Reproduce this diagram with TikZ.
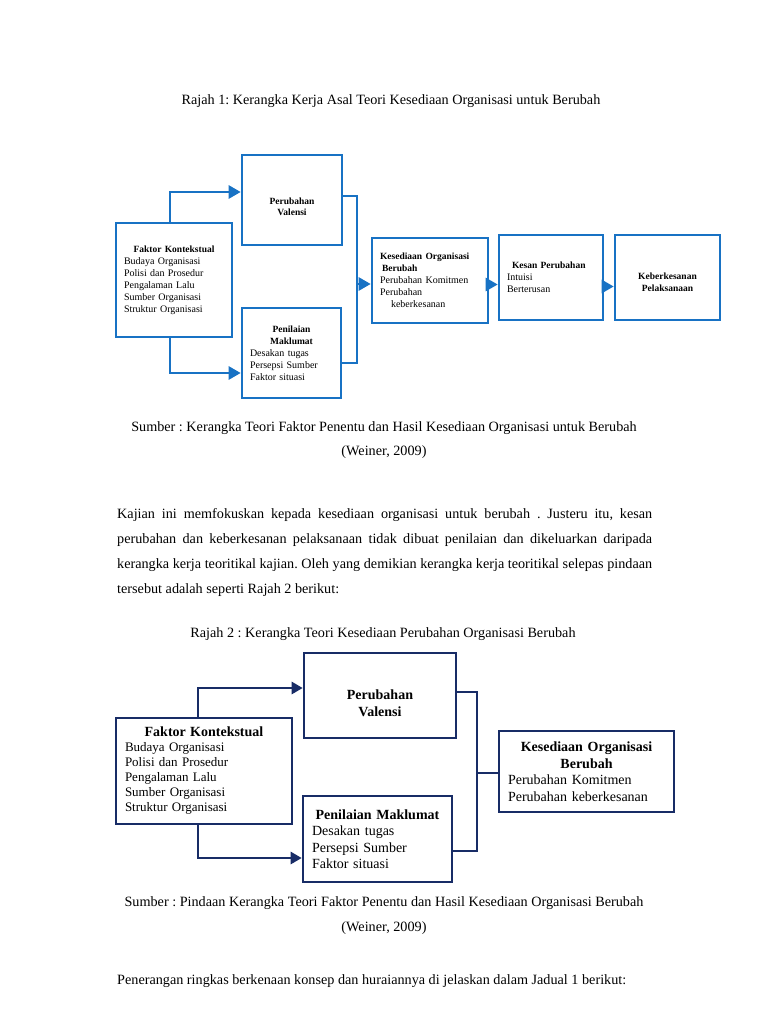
\documentclass[tikz,border=0pt]{standalone}
\usepackage{fontspec}
\setmainfont{Liberation Serif}
\usetikzlibrary{arrows.meta}
\definecolor{blueA}{RGB}{24,114,196}
\definecolor{navyB}{RGB}{24,44,102}
\frenchspacing

\begin{document}
\begin{tikzpicture}[x=1pt, y=-1pt,
	txt/.style={font=\fontsize{14.2}{25}\selectfont, inner sep=0pt},
	boxA/.style 2 args={draw=blueA, line width=2.6pt, inner xsep=8pt, inner ysep=0pt, align=left, text width=#1, minimum height=#2, font=\fontsize{10}{12}\selectfont},
	boxB/.style 2 args={draw=navyB, line width=2.6pt, inner xsep=9pt, inner ysep=0pt, align=left, text width=#1, minimum height=#2, font=\fontsize{13.5}{15.5}\selectfont},
	ttlA/.style={font=\fontsize{9.5}{11.5}\selectfont\bfseries},
	lineA/.style={draw=blueA, line width=2.6pt},
	arrA/.style={lineA, -{Triangle[length=12pt,width=13pt]}},
	lineB/.style={draw=navyB, line width=2.6pt},
	arrB/.style={lineB, -{Triangle[length=11pt,width=12pt]}}]
	\useasboundingbox[fill=white] (0,0) rectangle (768,1024);
	
	\node[txt] (capA) at (391,101) {Rajah 1: Kerangka Kerja Asal Teori Kesediaan Organisasi untuk Berubah};
	
	\node[boxA={100pt}{114pt}] (faktorA) at (174,280) {{\centering\bfseries\fontsize{9.5}{12}\selectfont Faktor Kontekstual\par}Budaya Organisasi\\Polisi dan Prosedur\\Pengalaman Lalu\\Sumber Organisasi\\Struktur Organisasi};
	\node[boxA={84pt}{90pt}, align=center, ttlA] (valensiA) at (292,200) {\rule{0pt}{20pt}Perubahan\\Valensi};
	\node[boxA={83pt}{90pt}] (penilaianA) at (291.5,353) {{\centering\bfseries\fontsize{9.5}{12}\selectfont Penilaian\\Maklumat\par}Desakan tugas\\Persepsi Sumber\\Faktor situasi};
	\node[boxA={100pt}{85pt}] (kesediaanA) at (430,280.5) {{\bfseries\fontsize{9.5}{12}\selectfont Kesediaan Organisasi\\\hspace*{2pt}Berubah\par}Perubahan Komitmen\\Perubahan\\\hspace*{11pt}keberkesanan};
	\node[boxA={88pt}{85pt}] (kesanA) at (551,277.5) {{\bfseries\fontsize{9.5}{12}\selectfont\hspace*{5pt}Kesan Perubahan\par}Intuisi\\Berterusan};
	\node[boxA={89pt}{85pt}, align=center, ttlA] (hasilA) at (667.5,277.5) {\rule{0pt}{16pt}Keberkesanan\\Pelaksanaan};
	
	\coordinate (busA) at (357,284);
	\draw[arrA] ([xshift=-4pt]faktorA.north) |- ([yshift=8pt]valensiA.west);
	\draw[arrA] ([xshift=-4pt]faktorA.south) |- ([yshift=-20pt]penilaianA.west);
	\draw[lineA] ([yshift=4pt]valensiA.east) -| (busA) |- ([yshift=-10pt]penilaianA.east);
	\draw[arrA] (busA) -- (busA -| kesediaanA.west);
	\draw[arrA] ([yshift=-4pt]kesediaanA.east) -- ([yshift=-4pt]kesediaanA.east -| kesanA.west);
	\draw[arrA] ([yshift=-9pt]kesanA.east) -- ([yshift=-9pt]kesanA.east -| hasilA.west);
	
	\node[txt] (srcA) at (384,428) {Sumber : Kerangka Teori Faktor Penentu dan Hasil Kesediaan Organisasi untuk Berubah};
	\node[txt] (citeA) at (384,452) {(Weiner, 2009)};
	
	\node[txt, anchor=north west, align=left] (kajian) at (117,508) {\makebox[535pt][s]{Kajian ini memfokuskan kepada kesediaan organisasi untuk berubah . Justeru itu, kesan}\\\makebox[535pt][s]{perubahan dan keberkesanan pelaksanaan tidak dibuat penilaian dan dikeluarkan daripada}\\\makebox[535pt][s]{kerangka kerja teoritikal kajian. Oleh yang demikian kerangka kerja teoritikal selepas pindaan}\\tersebut adalah seperti Rajah 2 berikut:};
	
	\node[txt] (capB) at (383,634) {Rajah 2 : Kerangka Teori Kesediaan Perubahan Organisasi Berubah};
	
	\node[boxB={158pt}{106pt}, font=\fontsize{13}{15}\selectfont] (faktorB) at (204,771) {{\centering\bfseries\fontsize{14}{15}\selectfont Faktor Kontekstual\par}Budaya Organisasi\\Polisi dan Prosedur\\Pengalaman Lalu\\Sumber Organisasi\\Struktur Organisasi};
	\node[boxB={134pt}{85pt}, align=center, font=\fontsize{14}{17}\selectfont\bfseries] (valensiB) at (380,695.5) {\rule{0pt}{26pt}Perubahan\\Valensi};
	\node[boxB={131pt}{86pt}, font=\fontsize{14}{16.5}\selectfont] (penilaianB) at (377.5,839) {{\centering\bfseries Penilaian Maklumat\par}Desakan tugas\\Persepsi Sumber\\Faktor situasi};
	\node[boxB={157pt}{81pt}, font=\fontsize{14}{16.5}\selectfont] (kesediaanB) at (586.5,771.5) {{\centering\bfseries Kesediaan Organisasi\\Berubah\par}Perubahan Komitmen\\Perubahan keberkesanan};
	
	\coordinate (busB) at (477,773);
	\draw[arrB] ([xshift=-6pt]faktorB.north) |- ([yshift=7.5pt]valensiB.west);
	\draw[arrB] ([xshift=-6pt]faktorB.south) |- ([yshift=-19pt]penilaianB.west);
	\draw[lineB] ([yshift=3.5pt]valensiB.east) -| (busB) |- ([yshift=-12pt]penilaianB.east);
	\draw[lineB] (busB) -- (busB -| kesediaanB.west);
	
	\node[txt] (srcB) at (384,903) {Sumber : Pindaan Kerangka Teori Faktor Penentu dan Hasil Kesediaan Organisasi Berubah};
	\node[txt] (citeB) at (384,928) {(Weiner, 2009)};
	\node[txt, anchor=west] (jadual) at (117,981) {Penerangan ringkas berkenaan konsep dan huraiannya di jelaskan dalam Jadual 1 berikut:};
\end{tikzpicture}
\end{document}
